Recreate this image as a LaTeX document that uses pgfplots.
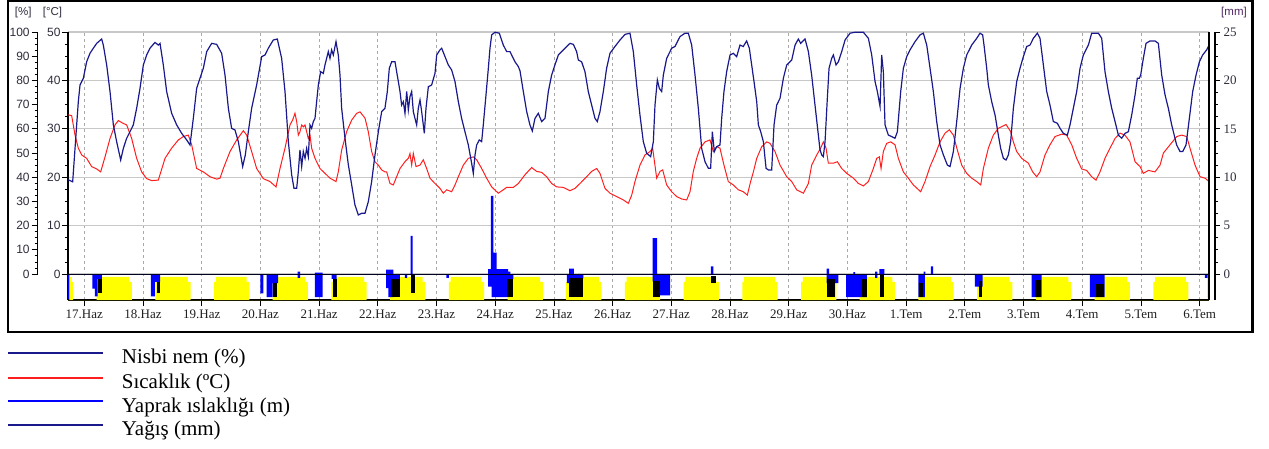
\documentclass[border=0pt]{standalone}
\usepackage{pgfplots}
\pgfplotsset{compat=1.18}
\usepackage{fontspec}
\setmainfont{Liberation Serif}
\newfontfamily\sansf{Liberation Sans}
\definecolor{hum}{RGB}{25,25,140}
\definecolor{tmp}{RGB}{255,30,30}
\definecolor{wet}{RGB}{0,0,255}
\definecolor{sun}{RGB}{255,255,0}
\definecolor{gridc}{RGB}{200,200,200}
\definecolor{dgrid}{RGB}{170,170,170}
\definecolor{lab}{RGB}{45,45,60}
\begin{document}
\begin{tikzpicture}[x=1pt,y=1pt]
\path[use as bounding box] (0,0) rectangle (1269,448);
% ---------------- main axis (degC) ----------------
\begin{axis}[
  at={(68pt,148pt)}, anchor=south west,
  scale only axis, width=1141pt, height=268pt,
  xmin=-0.2777, xmax=19.16, ymin=-5.37, ymax=50,
  axis x line*=bottom, axis y line*=left,
  axis line style={-, black, line width=1.1pt},
  xtick={0,...,19},
  xticklabels={17.Haz,18.Haz,19.Haz,20.Haz,21.Haz,22.Haz,23.Haz,24.Haz,25.Haz,26.Haz,27.Haz,28.Haz,29.Haz,30.Haz,1.Tem,2.Tem,3.Tem,4.Tem,5.Tem,6.Tem},
  ytick={0,10,...,50},
  minor ytick={2.5,5,...,47.5},
  tick align=outside,
  major tick length=6pt, minor tick length=3pt,
  tick style={black, line width=0.8pt},
  xmajorgrids, ymajorgrids,
  x grid style={dgrid, dash pattern=on 3pt off 3pt, line width=0.8pt},
  y grid style={gridc, line width=1.1pt},
  xticklabel style={font=\fontsize{13}{13}\selectfont, text=black!88},
  yticklabel style={font=\sansf\fontsize{12}{12}\selectfont, text=lab, xshift=2pt},
  /pgf/number format/assume math mode=true,
]
% daylight strip (yellow)
\addplot[const plot, fill=sun, draw=none, forget plot] coordinates {
(-0.2777,-5.37) (-0.255,-0.6) (-0.215,-1.6) (-0.19,-5.37)
(0.21,-1.6) (0.24,-0.6) (0.765,-1.6) (0.81,-5.37)
(1.21,-1.6) (1.24,-0.6) (1.765,-1.6) (1.81,-5.37)
(2.21,-1.6) (2.24,-0.6) (2.765,-1.6) (2.81,-5.37)
(3.21,-1.6) (3.24,-0.6) (3.765,-1.6) (3.81,-5.37)
(4.21,-1.6) (4.24,-0.6) (4.765,-1.6) (4.81,-5.37)
(5.21,-1.6) (5.24,-0.6) (5.765,-1.6) (5.81,-5.37)
(6.21,-1.6) (6.24,-0.6) (6.765,-1.6) (6.81,-5.37)
(7.21,-1.6) (7.24,-0.6) (7.765,-1.6) (7.81,-5.37)
(8.21,-1.6) (8.24,-0.6) (8.765,-1.6) (8.81,-5.37)
(9.21,-1.6) (9.24,-0.6) (9.765,-1.6) (9.81,-5.37)
(10.21,-1.6) (10.24,-0.6) (10.765,-1.6) (10.81,-5.37)
(11.21,-1.6) (11.24,-0.6) (11.765,-1.6) (11.81,-5.37)
(12.21,-1.6) (12.24,-0.6) (12.765,-1.6) (12.81,-5.37)
(13.21,-1.6) (13.24,-0.6) (13.765,-1.6) (13.81,-5.37)
(14.21,-1.6) (14.24,-0.6) (14.765,-1.6) (14.81,-5.37)
(15.21,-1.6) (15.24,-0.6) (15.765,-1.6) (15.81,-5.37)
(16.21,-1.6) (16.24,-0.6) (16.765,-1.6) (16.81,-5.37)
(17.21,-1.6) (17.24,-0.6) (17.765,-1.6) (17.81,-5.37)
(18.21,-1.6) (18.24,-0.6) (18.765,-1.6) (18.81,-5.37)
(19.16,-5.37)};
% leaf wetness (blue, downward from 0)
\addplot[const plot, fill=wet, draw=none, forget plot] coordinates {
(-0.2777,0) (-0.2777,-5.2) (-0.255,0)
(0.137,-3.0) (0.18,-4.6) (0.225,-1.0) (0.30,0)
(1.136,-4.6) (1.204,-1.6) (1.29,0)
(3.0,-4.0) (3.05,0) (3.107,-4.8) (3.21,-1.9) (3.30,0)
(3.635,-0.8) (3.675,0)
(3.93,-4.8) (4.06,0)
(4.215,-1.0) (4.30,0)
(5.14,-2.9) (5.18,-4.8) (5.265,-1.0) (5.378,0)
(5.463,-0.8) (5.50,0)
(6.17,-0.8) (6.21,0)
(6.88,-2.6) (6.94,-4.8) (7.22,-1.0) (7.31,0)
(8.22,-1.9) (8.28,-0.9) (8.50,0)
(9.683,-1.5) (9.80,-4.4) (9.98,0)
(12.647,-1.9) (12.845,0)
(12.976,-4.8) (13.33,0)
(13.47,-0.8) (13.51,0)
(14.21,-4.8) (14.32,0)
(15.17,-2.6) (15.305,0)
(16.14,-4.8) (16.31,0)
(17.13,-4.8) (17.38,0)
(19.09,-0.8) (19.13,0) (19.14,-5.0) (19.16,0)};
% black blocks
\addplot[fill=black, draw=none, forget plot] coordinates {(0.225,-1.0) (0.30,-1.0) (0.30,-4.0) (0.225,-4.0)};
\addplot[fill=black, draw=none, forget plot] coordinates {(1.233,-1.6) (1.285,-1.6) (1.285,-4.0) (1.233,-4.0)};
\addplot[fill=black, draw=none, forget plot] coordinates {(3.21,-1.9) (3.278,-1.9) (3.278,-4.8) (3.21,-4.8)};
\addplot[fill=black, draw=none, forget plot] coordinates {(4.24,-1.0) (4.30,-1.0) (4.30,-4.8) (4.24,-4.8)};
\addplot[fill=black, draw=none, forget plot] coordinates {(5.23,-1.0) (5.378,-1.0) (5.378,-4.8) (5.23,-4.8)};
\addplot[fill=black, draw=none, forget plot] coordinates {(5.56,0) (5.64,0) (5.64,-4.0) (5.56,-4.0)};
\addplot[fill=black, draw=none, forget plot] coordinates {(7.20,-1.0) (7.31,-1.0) (7.31,-4.8) (7.20,-4.8)};
\addplot[fill=black, draw=none, forget plot] coordinates {(8.26,-0.9) (8.50,-0.9) (8.50,-4.8) (8.26,-4.8)};
\addplot[fill=black, draw=none, forget plot] coordinates {(9.69,-1.5) (9.80,-1.5) (9.80,-4.8) (9.69,-4.8)};
\addplot[fill=black, draw=none, forget plot] coordinates {(10.676,-0.5) (10.76,-0.5) (10.76,-1.9) (10.676,-1.9)};
\addplot[fill=black, draw=none, forget plot] coordinates {(12.647,-1.0) (12.79,-1.0) (12.79,-4.8) (12.647,-4.8)};
\addplot[fill=black, draw=none, forget plot] coordinates {(13.24,-1.0) (13.33,-1.0) (13.33,-4.8) (13.24,-4.8)};
\addplot[fill=black, draw=none, forget plot] coordinates {(13.55,0) (13.62,0) (13.62,-4.8) (13.55,-4.8)};
\addplot[fill=black, draw=none, forget plot] coordinates {(14.22,-1.9) (14.28,-1.9) (14.28,-4.8) (14.22,-4.8)};
\addplot[fill=black, draw=none, forget plot] coordinates {(15.25,-1.5) (15.30,-1.5) (15.30,-4.8) (15.25,-4.8)};
\addplot[fill=black, draw=none, forget plot] coordinates {(16.20,-1.2) (16.30,-1.2) (16.30,-4.8) (16.20,-4.8)};
\addplot[fill=black, draw=none, forget plot] coordinates {(17.24,-2.0) (17.37,-2.0) (17.37,-4.8) (17.24,-4.8)};
% zero line
\addplot[black, line width=1pt, forget plot] coordinates {(-0.2777,0) (19.16,0)};
% temperature
\addplot[tmp, line width=1pt, forget plot] coordinates {
(-0.272,32.9) (-0.215,32.7) (-0.158,28.7) (-0.102,26.0) (-0.045,24.6) (0.040,23.9) (0.125,22.2) (0.211,21.7) (0.279,21.1) (0.353,24.2) (0.438,28.0) (0.523,30.8) (0.580,31.7) (0.665,31.1) (0.722,30.8) (0.807,28.0) (0.892,23.9) (0.977,21.1)
(1.062,19.7) (1.148,19.3) (1.261,19.4) (1.375,23.9) (1.488,26.0) (1.602,27.7) (1.687,28.4) (1.772,28.7) (1.829,26.7) (1.914,21.8)
(2.028,21.1) (2.142,20.1) (2.255,19.6) (2.312,19.8) (2.369,21.8) (2.482,25.3) (2.596,27.7) (2.709,29.6) (2.766,28.7) (2.851,25.3) (2.936,21.8)
(3.050,19.7) (3.164,19.1) (3.266,18.0) (3.334,21.8) (3.419,26.0) (3.504,30.8) (3.549,31.8) (3.589,33.2) (3.618,31.5) (3.646,28.7) (3.674,29.4) (3.703,30.8) (3.731,30.4) (3.760,30.8) (3.788,29.4) (3.816,28.0) (3.845,28.7) (3.873,26.0) (3.930,23.9)
(4.015,21.8) (4.100,20.8) (4.186,19.8) (4.288,19.1) (4.327,21.1) (4.384,25.6) (4.469,29.4) (4.555,31.8) (4.640,33.2) (4.697,33.5) (4.782,32.2) (4.838,29.4) (4.895,25.3) (4.952,23.2)
(5.009,22.5) (5.066,21.5) (5.122,21.1) (5.151,21.1) (5.208,18.7) (5.264,18.4) (5.321,20.1) (5.378,21.8) (5.463,23.2) (5.520,23.9) (5.548,24.9) (5.577,22.5) (5.605,24.9) (5.651,22.2) (5.719,22.5) (5.775,23.6) (5.832,21.8) (5.889,19.8) (5.974,18.7)
(6.059,17.7) (6.116,16.7) (6.173,17.4) (6.258,17.0) (6.315,18.4) (6.372,20.1) (6.457,22.5) (6.542,23.9) (6.627,24.2) (6.684,23.6) (6.769,21.8) (6.854,19.8) (6.940,18.0)
(7.053,16.7) (7.138,17.4) (7.195,17.9) (7.309,17.9) (7.394,18.7) (7.507,20.5) (7.621,22.0) (7.706,21.2) (7.791,21.0) (7.876,20.1) (7.961,18.7)
(8.047,18.0) (8.160,17.9) (8.274,17.2) (8.359,17.7) (8.444,18.7) (8.558,20.1) (8.643,21.2) (8.728,21.8) (8.785,20.8) (8.870,17.7) (8.955,16.7)
(9.069,16.0) (9.183,15.3) (9.268,14.6) (9.325,16.3) (9.381,19.1) (9.466,22.5) (9.551,24.6) (9.637,25.3) (9.682,26.0) (9.751,19.8) (9.807,21.2) (9.853,21.5) (9.921,18.4)
(10.006,17.0) (10.091,16.0) (10.177,15.5) (10.262,15.3) (10.319,17.0) (10.375,21.2) (10.432,23.9) (10.489,26.0) (10.574,27.3) (10.659,27.7) (10.716,25.3) (10.772,26.3) (10.829,26.0) (10.897,22.5) (10.971,19.1)
(11.056,18.4) (11.142,17.4) (11.226,17.0) (11.295,16.3) (11.351,19.1) (11.398,21.1) (11.455,23.9) (11.540,26.3) (11.625,27.3) (11.682,27.0) (11.767,25.3) (11.852,22.5) (11.966,20.1)
(12.051,19.1) (12.136,17.4) (12.250,16.7) (12.335,18.7) (12.391,22.5) (12.477,24.6) (12.545,26.0) (12.590,27.3) (12.636,26.0) (12.675,22.9) (12.761,22.9) (12.829,23.2) (12.903,21.8) (12.988,20.8)
(13.102,19.8) (13.187,18.7) (13.272,18.2) (13.357,19.1) (13.442,21.8) (13.499,23.9) (13.544,24.2) (13.573,21.8) (13.612,25.3) (13.669,27.0) (13.737,27.3) (13.811,26.7) (13.868,23.9) (13.953,21.1)
(14.038,19.8) (14.123,18.4) (14.248,17.0) (14.322,19.1) (14.408,22.2) (14.493,24.6) (14.578,27.3) (14.663,29.1) (14.737,29.8) (14.805,28.7) (14.873,25.6) (14.947,22.5)
(15.032,20.8) (15.117,19.8) (15.203,19.1) (15.271,18.4) (15.316,21.8) (15.401,26.0) (15.486,28.7) (15.571,30.1) (15.702,30.9) (15.781,29.4) (15.827,27.3) (15.884,25.3) (15.969,23.9)
(16.082,22.9) (16.156,21.1) (16.224,20.1) (16.281,21.1) (16.366,24.6) (16.451,26.7) (16.537,28.4) (16.650,28.9) (16.735,28.7) (16.821,26.7) (16.906,23.9) (16.991,21.7)
(17.076,21.4) (17.161,20.1) (17.235,19.4) (17.303,21.1) (17.388,23.9) (17.474,26.0) (17.559,28.0) (17.644,29.1) (17.729,28.7) (17.814,27.3) (17.900,23.2) (17.985,22.2)
(18.041,20.8) (18.127,21.4) (18.240,21.1) (18.326,22.5) (18.383,25.0) (18.496,26.7) (18.609,28.4) (18.694,28.7) (18.780,28.4) (18.836,26.0) (18.922,22.5)
(19.007,20.1) (19.093,19.8) (19.160,19.1)};
\end{axis}
% ---------------- humidity axis (%) ----------------
\begin{axis}[
  at={(68pt,148pt)}, anchor=south west,
  scale only axis, width=1141pt, height=268pt,
  xmin=-0.2777, xmax=19.16, ymin=-10.74, ymax=100,
  hide axis]
\addplot[hum, line width=1.2pt] coordinates {
(-0.272,38.9) (-0.198,38.1) (-0.158,51.9) (-0.102,71.2) (-0.073,78.1) (-0.016,80.9) (0.040,87.7) (0.097,91.2) (0.154,93.3) (0.211,95.3) (0.296,97.1) (0.324,94.6) (0.381,86.4) (0.438,75.4) (0.495,61.6) (0.551,54.7) (0.620,47.1) (0.665,51.9) (0.722,56.1) (0.778,58.8) (0.835,61.6) (0.892,68.5) (0.949,76.7)
(1.006,86.4) (1.062,90.5) (1.119,93.3) (1.204,95.7) (1.261,94.6) (1.290,95.3) (1.346,86.4) (1.403,75.4) (1.488,66.4) (1.574,61.6) (1.659,58.1) (1.744,55.4) (1.801,53.3) (1.857,64.3) (1.914,76.7) (1.971,80.9)
(2.028,85.0) (2.085,91.9) (2.170,95.3) (2.255,94.9) (2.340,91.2) (2.397,82.2) (2.454,68.5) (2.510,60.2) (2.567,59.5) (2.624,54.7) (2.698,44.4) (2.743,49.2) (2.794,58.8) (2.851,68.5) (2.936,78.1)
(3.022,89.8) (3.078,90.5) (3.135,93.3) (3.220,96.7) (3.288,97.1) (3.362,89.1) (3.419,75.4) (3.476,54.7) (3.533,40.9) (3.572,35.4) (3.618,35.4) (3.646,42.3) (3.674,51.3) (3.703,44.4) (3.731,50.6) (3.760,47.8) (3.788,51.9) (3.816,48.5) (3.845,61.6) (3.873,60.2) (3.902,63.0) (3.930,64.3) (3.958,71.2) (3.987,78.1)
(4.026,83.6) (4.072,82.9) (4.100,86.4) (4.157,91.9) (4.185,89.1) (4.214,92.6) (4.242,90.5) (4.288,96.0) (4.327,90.5) (4.356,82.2) (4.384,68.5) (4.441,56.1) (4.498,45.1) (4.555,36.8) (4.611,28.5) (4.668,24.4) (4.725,25.1) (4.782,25.1) (4.838,29.9) (4.895,38.2) (4.952,49.2)
(5.009,58.8) (5.066,67.1) (5.122,68.5) (5.162,75.4) (5.196,85.0) (5.236,87.7) (5.293,87.7) (5.321,83.6) (5.350,79.5) (5.378,75.4) (5.406,69.8) (5.435,71.2) (5.463,66.4) (5.492,75.4) (5.520,67.8) (5.548,73.3) (5.577,75.4) (5.605,67.1) (5.633,64.3) (5.662,61.6) (5.690,68.5) (5.719,71.9) (5.747,67.1) (5.775,61.6) (5.792,58.1) (5.821,68.5) (5.861,77.4) (5.917,78.1) (5.974,82.9)
(6.003,90.5) (6.059,92.6) (6.088,93.3) (6.145,89.8) (6.201,86.4) (6.258,84.3) (6.315,79.5) (6.372,71.2) (6.428,64.3) (6.485,58.8) (6.542,53.3) (6.599,45.7) (6.627,41.6) (6.656,49.2) (6.684,53.3) (6.729,55.4) (6.769,54.7) (6.797,61.6) (6.843,74.0) (6.883,85.0) (6.911,93.3) (6.940,98.8) (6.996,99.9)
(7.070,99.5) (7.138,94.6) (7.195,91.9) (7.252,91.9) (7.280,90.5) (7.337,87.7) (7.394,85.7) (7.422,84.0) (7.479,75.4) (7.536,67.1) (7.592,61.6) (7.632,59.1) (7.678,64.3) (7.734,66.4) (7.791,63.0) (7.848,64.3) (7.905,75.4) (7.961,82.2)
(8.018,86.4) (8.075,90.5) (8.132,91.9) (8.217,94.0) (8.274,95.3) (8.331,94.9) (8.387,91.9) (8.416,88.4) (8.472,87.7) (8.529,83.6) (8.586,75.4) (8.643,69.8) (8.700,64.3) (8.739,63.0) (8.785,67.1) (8.842,75.4) (8.898,85.0) (8.955,91.2)
(9.040,94.0) (9.126,96.7) (9.211,99.0) (9.296,99.5) (9.353,91.9) (9.410,78.1) (9.466,65.7) (9.523,54.7) (9.580,49.9) (9.648,48.5) (9.694,54.7) (9.722,69.8) (9.762,80.2) (9.796,76.7) (9.836,75.4) (9.864,82.2) (9.921,89.1)
(10.006,93.3) (10.063,94.0) (10.148,98.1) (10.233,99.5) (10.290,99.5) (10.347,94.6) (10.404,82.2) (10.460,68.5) (10.517,51.9) (10.574,46.4) (10.631,43.7) (10.670,43.7) (10.699,58.8) (10.733,50.6) (10.772,52.6) (10.829,53.3) (10.858,64.3) (10.897,75.4) (10.943,83.6)
(11.000,90.5) (11.056,91.2) (11.113,89.8) (11.170,94.6) (11.226,94.0) (11.283,96.3) (11.329,93.3) (11.369,86.4) (11.409,79.5) (11.455,71.2) (11.483,61.6) (11.523,58.8) (11.568,54.7) (11.614,43.7) (11.653,43.0) (11.710,43.0) (11.750,61.6) (11.795,69.8) (11.852,72.6) (11.909,80.9) (11.966,86.4)
(12.051,88.4) (12.108,94.6) (12.164,97.1) (12.204,95.3) (12.278,97.1) (12.335,91.9) (12.391,82.2) (12.448,69.8) (12.505,57.4) (12.533,51.3) (12.562,49.2) (12.590,48.5) (12.619,54.7) (12.658,72.6) (12.687,85.0) (12.732,89.1) (12.761,90.5) (12.806,86.4) (12.846,87.7) (12.903,91.9) (12.960,96.7)
(13.045,99.5) (13.130,99.9) (13.272,99.9) (13.357,97.4) (13.414,90.5) (13.471,79.5) (13.510,75.4) (13.556,69.2) (13.584,90.5) (13.612,83.6) (13.641,61.6) (13.697,57.4) (13.754,56.8) (13.811,56.1) (13.851,58.8) (13.908,75.4) (13.953,85.0)
(14.010,89.8) (14.066,92.6) (14.152,96.0) (14.237,98.8) (14.294,99.5) (14.351,94.6) (14.408,85.0) (14.464,75.4) (14.521,63.0) (14.578,53.3) (14.635,49.2) (14.703,45.0) (14.748,44.4) (14.805,50.6) (14.862,63.0) (14.919,76.7) (14.975,85.0)
(15.032,90.5) (15.117,94.6) (15.203,97.4) (15.259,99.5) (15.304,98.8) (15.327,94.6) (15.373,85.0) (15.401,78.1) (15.458,71.2) (15.515,65.7) (15.571,57.4) (15.611,51.9) (15.657,47.8) (15.702,47.1) (15.742,49.2) (15.781,54.7) (15.827,68.5) (15.884,79.5) (15.940,85.0) (15.997,89.8)
(16.054,94.0) (16.111,94.6) (16.168,97.4) (16.236,99.5) (16.281,97.4) (16.338,86.4) (16.395,75.4) (16.451,69.8) (16.508,63.0) (16.576,62.3) (16.622,60.2) (16.679,58.1) (16.747,57.4) (16.792,61.6) (16.849,68.5) (16.906,75.4) (16.963,85.0)
(17.019,90.5) (17.105,94.6) (17.161,99.5) (17.275,99.5) (17.332,97.4) (17.388,83.6) (17.445,75.4) (17.502,68.5) (17.559,63.0) (17.616,57.4) (17.672,56.1) (17.729,58.1) (17.786,58.8) (17.843,65.7) (17.900,74.0) (17.939,80.9) (17.973,80.9) (17.996,82.2)
(18.041,89.1) (18.087,95.3) (18.155,96.3) (18.240,96.3) (18.297,95.3) (18.354,82.2) (18.411,74.0) (18.467,68.5) (18.524,61.6) (18.609,53.3) (18.666,50.6) (18.712,50.6) (18.768,53.3) (18.825,64.3) (18.882,75.4) (18.939,82.2) (18.996,87.7)
(19.052,90.5) (19.120,92.6) (19.160,94.6)};
\end{axis}
% ---------------- rain axis (mm) ----------------
\begin{axis}[
  at={(68pt,148pt)}, anchor=south west,
  scale only axis, width=1141pt, height=268pt,
  xmin=-0.2777, xmax=19.16, ymin=-2.685, ymax=25,
  hide x axis, axis y line*=right, ytick=\empty,
  axis line style={-, black, line width=1.1pt}]
\addplot[const plot, fill=wet, draw=none] coordinates {
(-0.2777,0)
(3.635,0.25) (3.675,0)
(3.93,0.15) (4.06,0)
(5.14,0.45) (5.265,0)
(5.56,3.95) (5.595,0)
(6.88,0.5) (6.928,8.08) (6.967,2.2) (7.026,0.5) (7.22,0.25) (7.26,0)
(8.26,0.55) (8.34,0)
(9.683,3.7) (9.76,0)
(10.676,0.8) (10.715,0)
(12.647,0.55) (12.69,0)
(13.10,0.2) (13.13,0)
(13.47,0.25) (13.51,0) (13.545,0.5) (13.63,0)
(14.30,0.25) (14.33,0)
(14.42,0.8) (14.46,0)
(19.16,0)};
\end{axis}
% ---------------- outer % axis ----------------
\begin{axis}[
  at={(37.7pt,174pt)}, anchor=south west,
  scale only axis, width=20pt, height=242pt,
  xmin=0, xmax=1, ymin=0, ymax=100,
  hide x axis, axis y line*=left,
  axis line style={-, black, line width=1.1pt},
  ytick={0,10,...,100}, minor ytick={2.5,5,...,97.5},
  tick align=outside, major tick length=6pt, minor tick length=3pt,
  tick style={black, line width=0.8pt},
  yticklabel style={font=\sansf\fontsize{12}{12}\selectfont, text=lab, xshift=1.5pt},
  /pgf/number format/assume math mode=true]
\end{axis}
% ---------------- right mm axis ----------------
\begin{axis}[
  at={(1215pt,148pt)}, anchor=south east,
  scale only axis, width=20pt, height=268pt,
  xmin=0, xmax=1, ymin=-2.685, ymax=25,
  hide x axis, axis y line*=right,
  axis line style={-, black, line width=1.1pt},
  ytick={0,5,...,25}, minor ytick={1.25,2.5,...,23.75},
  tick align=outside, major tick length=5pt, minor tick length=3pt,
  tick style={black, line width=0.8pt},
  yticklabel style={font=\fontsize{13}{13}\selectfont, text=lab},
  /pgf/number format/assume math mode=true]
\end{axis}
% unit labels and frame
\node[font=\sansf\fontsize{11.5}{12}\selectfont, text=lab] at (23.3,435.5) {[\%]};
\node[font=\sansf\fontsize{11.5}{12}\selectfont, text=lab] at (52.5,435.5) {[°C]};
\node[font=\sansf\fontsize{11.5}{12}\selectfont, text={rgb,255:red,80;green,40;blue,100}] at (1234,435.2) {[mm]};
\draw[line width=2.4pt] (8.2,115.8) rectangle (1252.5,446.8);
% legend
\draw[hum, line width=1.8pt] (8,95.3) -- (103,95.3);
\draw[tmp, line width=1.8pt] (8,70.3) -- (103,70.3);
\draw[wet, line width=1.8pt] (8,47) -- (103,47);
\draw[hum, line width=1.8pt] (8,23) -- (103,23);
\node[anchor=base west, inner sep=0pt, font=\fontsize{21}{24}\selectfont] at (121.7,84.7) {Nisbi nem (\%)};
\node[anchor=base west, inner sep=0pt, font=\fontsize{21}{24}\selectfont] at (121.7,59.7) {Sıcaklık (ºC)};
\node[anchor=base west, inner sep=0pt, font=\fontsize{21}{24}\selectfont] at (121.7,35.7) {Yaprak ıslaklığı (m)};
\node[anchor=base west, inner sep=0pt, font=\fontsize{21}{24}\selectfont] at (121.7,12.3) {Yağış (mm)};
\end{tikzpicture}
\end{document}
